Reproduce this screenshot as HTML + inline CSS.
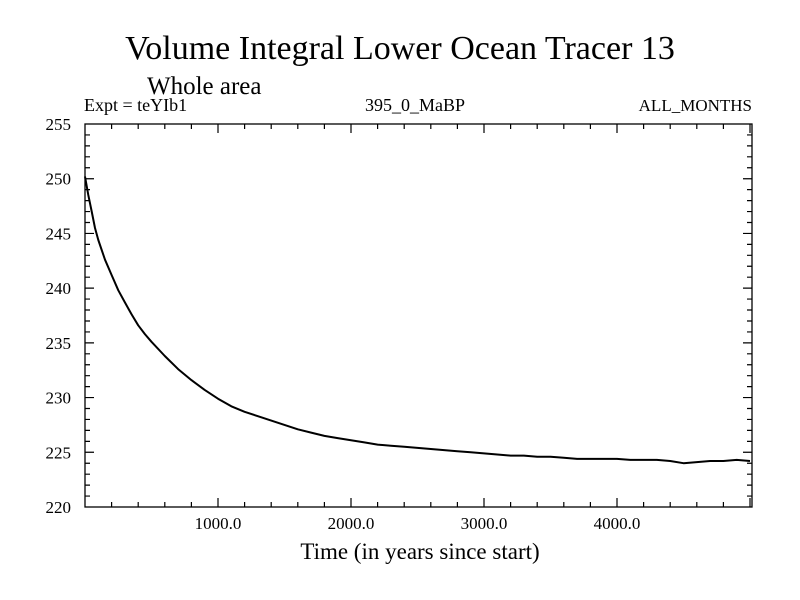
<!DOCTYPE html>
<html><head><meta charset="utf-8"><style>
body{margin:0;background:#fff;}
svg{display:block;font-family:"Liberation Serif",serif;}
</style></head><body>
<svg width="800" height="600">
<text x="400" y="59" font-size="34" text-anchor="middle">Volume Integral Lower Ocean Tracer 13</text>
<text x="147" y="94" font-size="25">Whole area</text>
<text x="84" y="111" font-size="18">Expt = teYIb1</text>
<text x="365" y="111" font-size="18">395_0_MaBP</text>
<text x="752" y="111" font-size="17" text-anchor="end">ALL_MONTHS</text>
<text x="420" y="559" font-size="23" text-anchor="middle">Time (in years since start)</text>
<g id="ax"></g>
</svg>
<script>
const years=[0,25,50,75,100,150,200,250,300,350,400,450,500,600,700,800,900,1000,1100,1200,1300,1400,1500,1600,1700,1800,1900,2000,2100,2200,2300,2400,2500,2600,2700,2800,2900,3000,3100,3200,3300,3400,3500,3600,3700,3800,3900,4000,4100,4200,4300,4400,4500,4600,4700,4800,4900,5000];
const values=[250.2,248.5,247.0,245.5,244.4,242.6,241.2,239.8,238.7,237.6,236.6,235.8,235.1,233.8,232.6,231.6,230.7,229.9,229.2,228.7,228.3,227.9,227.5,227.1,226.8,226.5,226.3,226.1,225.9,225.7,225.6,225.5,225.4,225.3,225.2,225.1,225.0,224.9,224.8,224.7,224.7,224.6,224.6,224.5,224.4,224.4,224.4,224.4,224.3,224.3,224.3,224.2,224.0,224.1,224.2,224.2,224.3,224.2];
const xTicks=[1000,2000,3000,4000];
const xTickLabels=["1000.0","2000.0","3000.0","4000.0"];
const yTicks=[220,225,230,235,240,245,250,255];
const L=85,R=752,T=124,B=507,X0=0,X1=5015,Y0=220,Y1=255;
const sx=v=>L+(v-X0)/(X1-X0)*(R-L);
const sy=v=>B-(v-Y0)/(Y1-Y0)*(B-T);
const NS="http://www.w3.org/2000/svg";
const g=document.getElementById('ax');
function mk(t,a){const e=document.createElementNS(NS,t);for(const k in a)e.setAttribute(k,a[k]);g.appendChild(e);return e;}
let f=mk('rect',{x:L,y:T,width:R-L,height:B-T,fill:'none',stroke:'#000','stroke-width':1.3});


let d='';
for(let v=200;v<X1;v+=200){const x=sx(v),len=(v%1000===0)?9:5;d+=`M${x},${B}v${-len}M${x},${T}v${len}`;}
for(let v=Y0+1;v<Y1;v++){const y=sy(v),len=(v%5===0)?9:5;d+=`M${L},${y}h${len}M${R},${y}h${-len}`;}
let tk=mk('path',{d:d,stroke:'#000','stroke-width':1.2,fill:'none'});


xTicks.forEach((v,i)=>{const t=mk('text',{x:sx(v),y:B+22,'font-size':17,'text-anchor':'middle'});t.textContent=xTickLabels[i];

});
yTicks.forEach(v=>{const t=mk('text',{x:71,y:sy(v)+6,'font-size':17,'text-anchor':'end'});t.textContent=v;

});
const pts=years.map((v,i)=>sx(v).toFixed(1)+','+sy(values[i]).toFixed(1)).join(' ');
const line=mk('polyline',{points:pts,fill:'none',stroke:'#000','stroke-width':2,'stroke-linejoin':'round'});


</script>
</body></html>
